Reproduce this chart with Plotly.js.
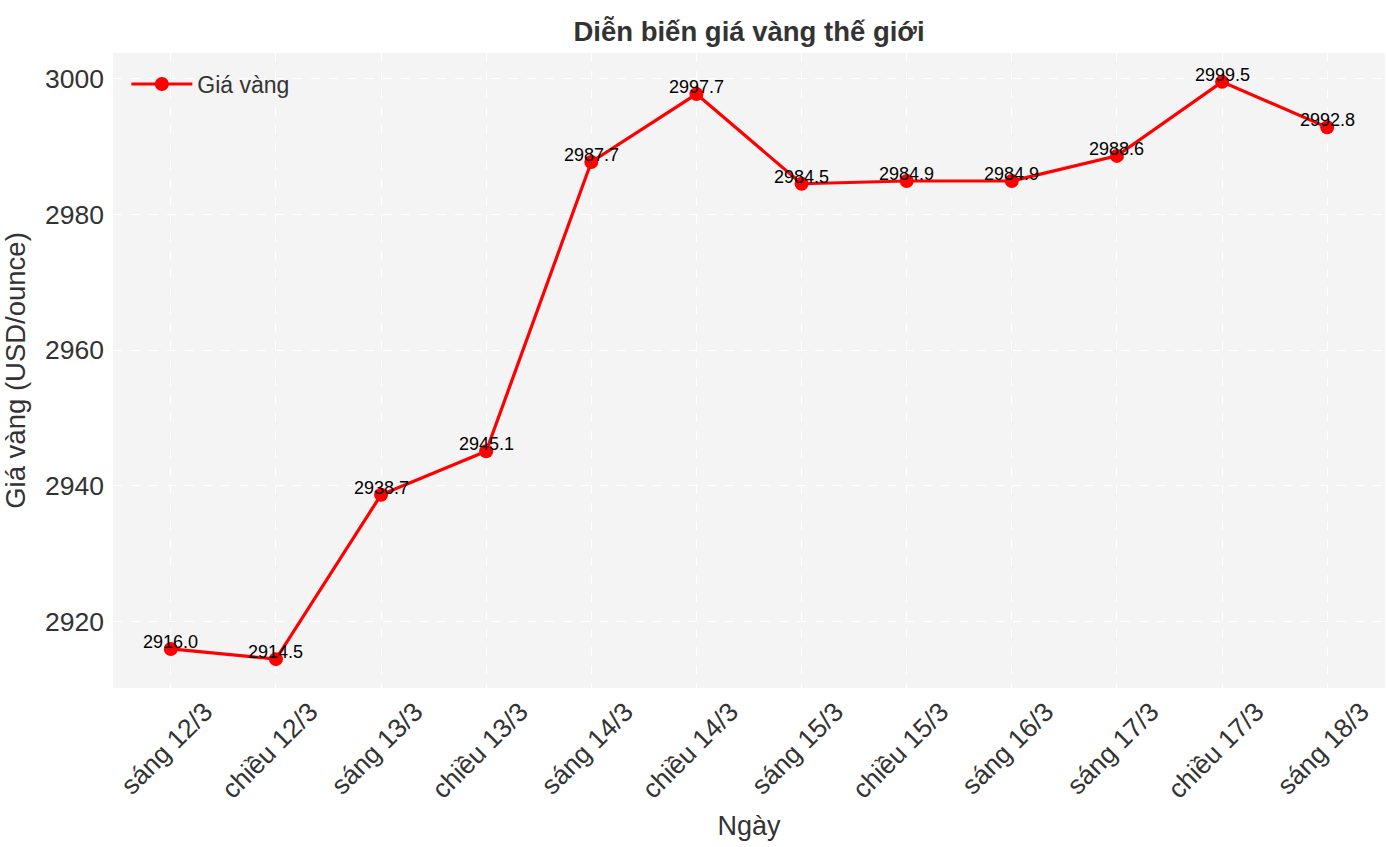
<!DOCTYPE html>
<html>
<head>
<meta charset="utf-8">
<script src="https://cdn.plot.ly/plotly-3.0.1.min.js"></script>
<style>html,body{margin:0;padding:0;background:#fff}#chart{width:1386px;height:847px}</style>
</head>
<body>
<div id="chart"></div>
<script>
const categories = ["sáng 12/3","chiều 12/3","sáng 13/3","chiều 13/3","sáng 14/3","chiều 14/3","sáng 15/3","chiều 15/3","sáng 16/3","sáng 17/3","chiều 17/3","sáng 18/3"];
const prices = [2916.0, 2914.5, 2938.7, 2945.1, 2987.7, 2997.7, 2984.5, 2984.9, 2984.9, 2988.6, 2999.5, 2992.8];
const yTicks = [2920, 2940, 2960, 2980, 3000];

const FONT = "Liberation Sans, Arial, sans-serif";
const idx = categories.map((c, i) => i);

const trace = {
  x: idx,
  y: prices,
  type: "scatter",
  mode: "lines+markers",
  name: "Giá vàng",
  line: {color: "#ff0000", width: 3.2},
  marker: {color: "#ff0000", size: 14},
  hoverinfo: "skip"
};

const annotations = prices.map((p, i) => ({
  x: idx[i], y: p, xref: "x", yref: "y",
  text: p.toFixed(1), showarrow: false,
  yshift: 7,
  font: {family: FONT, size: 18, color: "#000"}
}));

const layout = {
  width: 1386, height: 847,
  margin: {l: 113, r: 1, t: 53, b: 159},
  paper_bgcolor: "#ffffff",
  plot_bgcolor: "#f4f4f4",
  font: {family: FONT, color: "#333"},
  title: {text: "<b>Diễn biến giá vàng thế giới</b>", xref: "paper", x: 0.5, xanchor: "center", yref: "container", y: 0.963, yanchor: "middle", font: {family: FONT, size: 27.5, color: "#333"}},
  showlegend: true,
  legend: {x: 0.0105, y: 0.985, xanchor: "left", yanchor: "top", bgcolor: "rgba(0,0,0,0)", itemwidth: 61, font: {family: FONT, size: 23, color: "#333"}},
  xaxis: {
    range: [-0.55, categories.length - 1 + 0.55],
    tickmode: "array", tickvals: idx, ticktext: categories,
    tickangle: -45,
    ticklabelshift: 34,
    ticklabelstandoff: 2,
    tickfont: {family: FONT, size: 26.5, color: "#333"},
    showgrid: true, gridcolor: "#ffffff", griddash: "dash", gridwidth: 1,
    zeroline: false, showline: false, ticks: "",
    title: {text: "Ngày", font: {family: FONT, size: 27, color: "#333"}, standoff: 12}
  },
  yaxis: {
    range: [2910.25, 3003.75],
    tickmode: "array", tickvals: yTicks, ticktext: yTicks.map(String),
    tickfont: {family: FONT, size: 26.5, color: "#333"},
    showgrid: true, gridcolor: "#ffffff", griddash: "dash", gridwidth: 1,
    zeroline: false, showline: false, ticks: "",
    ticklabelstandoff: 8,
    title: {text: "Giá vàng (USD/ounce)", font: {family: FONT, size: 27.5, color: "#333"}, standoff: 15}
  },
  annotations: annotations
};

Plotly.newPlot("chart", [trace], layout, {staticPlot: true, displayModeBar: false});
</script>
</body>
</html>
